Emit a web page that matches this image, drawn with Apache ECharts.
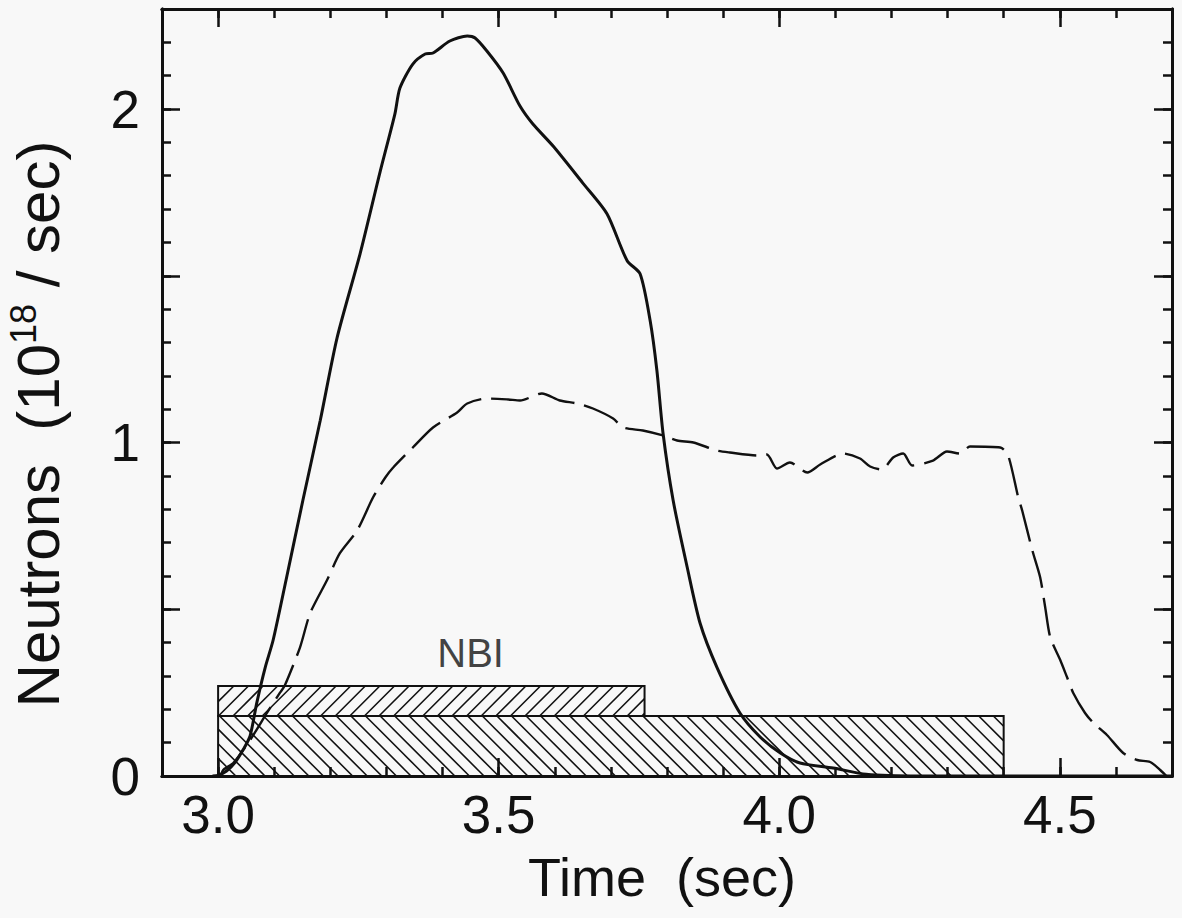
<!DOCTYPE html>
<html>
<head>
<meta charset="utf-8">
<script src="https://cdn.jsdelivr.net/npm/echarts@6/dist/echarts.min.js"></script>
<style>
html,body{margin:0;padding:0;background:#f8f8f8;}
#chart{width:1182px;height:918px;}
</style>
</head>
<body>
<div id="chart"></div>
<script>
// ---- data ----
const solidT = [2.990, 3.000, 3.015, 3.030, 3.045, 3.057, 3.069, 3.084, 3.098, 3.121, 3.151, 3.182, 3.212, 3.253, 3.289, 3.315, 3.324, 3.347, 3.369, 3.383, 3.413, 3.444, 3.458, 3.479, 3.508, 3.538, 3.561, 3.597, 3.650, 3.693, 3.729, 3.752, 3.770, 3.782, 3.793, 3.811, 3.836, 3.859, 3.889, 3.930, 3.966, 4.002, 4.037, 4.096, 4.155, 4.250, 4.700];
const solidN = [0.000, 0.002, 0.015, 0.040, 0.080, 0.120, 0.220, 0.326, 0.407, 0.587, 0.826, 1.066, 1.314, 1.566, 1.814, 1.985, 2.063, 2.135, 2.165, 2.168, 2.204, 2.219, 2.213, 2.174, 2.108, 2.009, 1.955, 1.889, 1.778, 1.686, 1.545, 1.506, 1.365, 1.216, 1.027, 0.826, 0.626, 0.458, 0.326, 0.189, 0.117, 0.069, 0.039, 0.024, 0.005, 0.000, 0.000];

const dashedT = [3.005, 3.009, 3.027, 3.057, 3.087, 3.110, 3.119, 3.146, 3.164, 3.194, 3.217, 3.248, 3.276, 3.298, 3.312, 3.347, 3.383, 3.426, 3.444, 3.479, 3.517, 3.538, 3.577, 3.609, 3.640, 3.668, 3.704, 3.722, 3.757, 3.793, 3.818, 3.847, 3.889, 3.912, 3.961, 3.978, 3.996, 4.019, 4.050, 4.073, 4.114, 4.144, 4.162, 4.183, 4.203, 4.221, 4.237, 4.274, 4.299, 4.322, 4.340, 4.394, 4.408, 4.426, 4.433, 4.451, 4.465, 4.474, 4.483, 4.501, 4.513, 4.524, 4.545, 4.560, 4.584, 4.613, 4.638, 4.661, 4.679, 4.690];
const dashedN = [0.000, 0.018, 0.039, 0.108, 0.189, 0.249, 0.272, 0.386, 0.488, 0.587, 0.668, 0.737, 0.835, 0.895, 0.925, 0.985, 1.045, 1.090, 1.117, 1.132, 1.129, 1.126, 1.147, 1.126, 1.117, 1.102, 1.072, 1.045, 1.036, 1.021, 1.006, 1.000, 0.976, 0.970, 0.961, 0.964, 0.922, 0.940, 0.910, 0.934, 0.967, 0.952, 0.928, 0.919, 0.955, 0.967, 0.931, 0.946, 0.973, 0.967, 0.988, 0.985, 0.961, 0.835, 0.796, 0.677, 0.596, 0.506, 0.416, 0.347, 0.296, 0.249, 0.189, 0.159, 0.123, 0.069, 0.048, 0.042, 0.018, 0.000];

// NBI heating intervals (time start/end, drawn band low/high)
const nbiStart = [3.00, 3.00];
const nbiEnd   = [3.76, 4.40];
const nbiLow   = [0.18, 0.00];
const nbiHigh  = [0.27, 0.18];
const nbiText  = 'NBI';
const nbiTextAt = [3.45, 0.37];

const xRange = [2.9, 4.7];
const yRange = [0, 2.3];
const xTickLabels = ['3.0', '3.5', '4.0', '4.5'];
const yTickLabels = ['0', '1', '2'];
const xTitle = 'Time  (sec)';

// ---- styles ----
const INK = '#111';
const FONT = '"Liberation Sans", Arial, Helvetica, sans-serif';
const hatchDir = ['/', '\\'];

const chart = echarts.init(document.getElementById('chart'), null, {renderer: 'svg'});

function renderHatch(params, api) {
  const x0 = api.value(0), x1 = api.value(1), y0 = api.value(2), y1 = api.value(3);
  const tl = api.coord([x0, y1]);
  const br = api.coord([x1, y0]);
  const L = tl[0], T = tl[1], R = br[0], B = br[1];
  const step = 14.6;
  const children = [];
  const ls = {stroke: INK, lineWidth: 1.6};
  if (hatchDir[params.dataIndex] === '/') {
    const c0 = Math.ceil((L + T) / step) * step;
    for (let c = c0; c <= R + B; c += step) {
      const xa = Math.max(L, c - B), xb = Math.min(R, c - T);
      if (xb > xa) children.push({type: 'line', shape: {x1: xa, y1: c - xa, x2: xb, y2: c - xb}, style: ls});
    }
  } else {
    const c0 = Math.ceil((T - R) / step) * step;
    for (let c = c0; c <= B - L; c += step) {
      const xa = Math.max(L, T - c), xb = Math.min(R, B - c);
      if (xb > xa) children.push({type: 'line', shape: {x1: xa, y1: xa + c, x2: xb, y2: xb + c}, style: ls});
    }
  }
  children.push({type: 'rect', shape: {x: L, y: T, width: R - L, height: B - T},
    style: {fill: 'none', stroke: INK, lineWidth: 2}});
  return {type: 'group', children: children};
}

function xAxisDef(pos, major) {
  const a = {
    type: 'value', position: pos, min: xRange[0], max: xRange[1],
    axisLine: {show: true, onZero: false, lineStyle: {color: INK, width: 3}},
    axisTick: {show: true, inside: true, length: major ? 18 : 9, lineStyle: {color: INK, width: 2.5}},
    splitLine: {show: false},
    axisLabel: {show: false}
  };
  if (major) {
    a.splitNumber = 4; a.minInterval = 0.5; a.maxInterval = 0.5;
  } else {
    a.interval = 0.1;
  }
  if (major && pos === 'bottom') {
    a.axisLabel = {
      show: true, margin: 12, fontSize: 53, color: INK, fontFamily: FONT,
      formatter: v => (xTickLabels.indexOf(v.toFixed(1)) >= 0 ? v.toFixed(1) : '')
    };
    a.name = xTitle;
    a.nameLocation = 'middle';
    a.nameGap = 74;
    a.nameTextStyle = {fontSize: 54, color: INK, fontFamily: FONT, padding: [0, 10, 0, 0]};
  }
  return a;
}

function yAxisDef(pos, major) {
  const a = {
    type: 'value', position: pos, min: yRange[0], max: yRange[1],
    interval: major ? 0.5 : 0.1,
    axisLine: {show: true, onZero: false, lineStyle: {color: INK, width: 3}},
    axisTick: {show: true, inside: true, length: major ? 18 : 9, lineStyle: {color: INK, width: 2.5}},
    splitLine: {show: false},
    axisLabel: {show: false}
  };
  if (major && pos === 'left') {
    a.axisLabel = {
      show: true, margin: 22, fontSize: 53, color: INK, fontFamily: FONT,
      formatter: v => (yTickLabels.indexOf(String(v)) >= 0 ? String(v) : '')
    };
  }
  return a;
}

const option = {
  backgroundColor: '#f8f8f8',
  animation: false,
  grid: {left: 162, right: 10, top: 9, bottom: 142, outerBoundsMode: 'none'},
  xAxis: [xAxisDef('bottom', false), xAxisDef('bottom', true), xAxisDef('top', false), xAxisDef('top', true)],
  yAxis: [yAxisDef('left', false), yAxisDef('left', true), yAxisDef('right', false), yAxisDef('right', true)],
  graphic: [
    {
      type: 'text', x: 38, y: 424, rotation: Math.PI / 2,
      style: {
        text: '{a|Neutrons  (10}{s|18}{a| / sec)}',
        align: 'center', verticalAlign: 'middle',
        fill: INK,
        rich: {
          a: {fontSize: 60, lineHeight: 66, fontFamily: FONT, fill: INK, color: INK},
          s: {fontSize: 36, lineHeight: 36, verticalAlign: 'top', fontFamily: FONT, fill: INK, color: INK}
        }
      }
    }
  ],
  series: [
    {
      type: 'custom', name: 'NBI', xAxisIndex: 0, yAxisIndex: 0, z: 1,
      renderItem: renderHatch,
      encode: {x: [0, 1], y: [2, 3]},
      data: nbiStart.map((s, i) => [s, nbiEnd[i], nbiLow[i], nbiHigh[i]])
    },
    {
      type: 'scatter', xAxisIndex: 0, yAxisIndex: 0, z: 3, symbolSize: 0, silent: true,
      itemStyle: {color: INK},
      data: [nbiTextAt],
      label: {show: true, formatter: nbiText, position: 'inside', fontSize: 40, color: INK,
        textBorderWidth: 0, fontFamily: FONT}
    },
    {
      type: 'line', name: 'solid', xAxisIndex: 0, yAxisIndex: 0, z: 4,
      showSymbol: false, smooth: 0.25,
      lineStyle: {color: INK, width: 3},
      data: solidT.map((t, i) => [t, solidN[i]])
    },
    {
      type: 'line', name: 'dashed', xAxisIndex: 0, yAxisIndex: 0, z: 4,
      showSymbol: false, smooth: 0.25,
      lineStyle: {color: INK, width: 2.4, type: [38, 10]},
      data: dashedT.map((t, i) => [t, dashedN[i]])
    }
  ]
};
chart.setOption(option);
</script>
</body>
</html>
